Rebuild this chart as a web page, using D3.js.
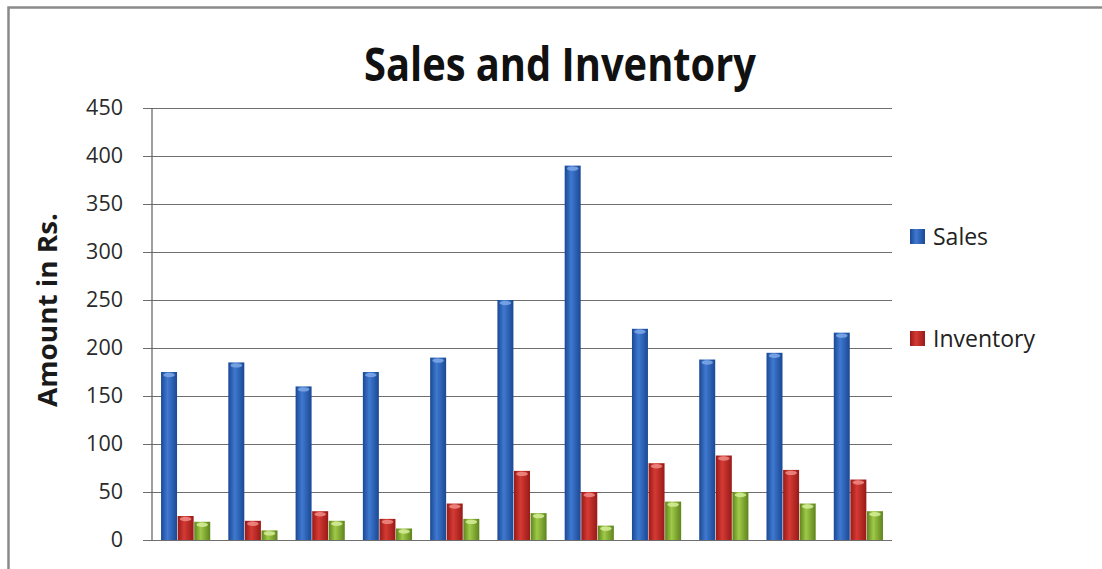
<!DOCTYPE html>
<html>
<head>
<meta charset="utf-8">
<script src="https://cdn.jsdelivr.net/npm/d3@7"></script>
<style>
  html, body { margin: 0; padding: 0; background: #fff; }
  svg { display: block; }
</style>
</head>
<body>
<svg id="chart" width="1102" height="569"></svg>
<script>
// Data
const categories = ["1", "2", "3", "4", "5", "6", "7", "8", "9", "10", "11"];
const seriesNames = ["Sales", "Inventory", "Series3"];
const sales     = [175, 185, 160, 175, 190, 250, 390, 220, 188, 195, 216];
const inventory = [25, 20, 30, 22, 38, 72, 50, 80, 88, 73, 63];
const series3   = [19, 10, 20, 12, 22, 28, 15, 40, 50, 38, 30];
const yTicks = [0, 50, 100, 150, 200, 250, 300, 350, 400, 450];
const legendSeries = ["Sales", "Inventory"];

const seriesValues = [sales, inventory, series3];
const palette = {
  Sales:     { dark: "#1a4894", light: "#3f79d0", cap: "#7fa9e8" },
  Inventory: { dark: "#981a17", light: "#d53a34", cap: "#f08c86" },
  Series3:   { dark: "#5f831d", light: "#9fca48", cap: "#d6ee9a" }
};

const svg = d3.select("#chart");
const W = 1102, H = 569;
const plot = { left: 152, right: 892, top: 108, bottom: 540 };

// Gradients giving the columns a rounded look
const defs = svg.append("defs");
seriesNames.forEach((name, i) => {
  const g = defs.append("linearGradient")
    .attr("id", "grad" + i).attr("x1", "0%").attr("x2", "100%").attr("y1", "0%").attr("y2", "0%");
  g.append("stop").attr("offset", "0%").attr("stop-color", palette[name].dark);
  g.append("stop").attr("offset", "40%").attr("stop-color", palette[name].light);
  g.append("stop").attr("offset", "100%").attr("stop-color", palette[name].dark);
});

// Outer frame (left and top edges)
svg.append("path")
  .attr("d", `M8.5,${H} L8.5,7.5 L${W},7.5`)
  .attr("fill", "none").attr("stroke", "#8a8a8a").attr("stroke-width", 2.5);

// Scales
const x0 = d3.scaleBand().domain(categories).range([plot.left, plot.right])
  .paddingInner(0.26).paddingOuter(0.13);
const x1 = d3.scaleBand().domain(seriesNames).range([0, x0.bandwidth()]).padding(0);
const y = d3.scaleLinear().domain([0, 450]).range([plot.bottom, plot.top]);

// Gridlines and y axis
const yAxis = d3.axisLeft(y).tickValues(yTicks).tickSize(plot.right - plot.left + 9).tickPadding(20);
const gAxis = svg.append("g")
  .attr("transform", `translate(${plot.right},0)`)
  .call(yAxis);
gAxis.select(".domain").remove();
gAxis.selectAll(".tick line").attr("stroke", "#6e6e6e").attr("stroke-width", 1.2);
gAxis.selectAll(".tick text")
  .attr("x", -(plot.right - 123))
  .attr("fill", "#2a2a2a")
  .style("font-family", "'Open Sans', sans-serif")
  .style("font-size", "21.5px");

svg.append("line")
  .attr("x1", plot.left).attr("x2", plot.left)
  .attr("y1", y(450)).attr("y2", y(0))
  .attr("stroke", "#5e5e5e").attr("stroke-width", 1.2);

// Bars
const rows = categories.map((c, ci) => ({
  cat: c,
  vals: seriesNames.map((s, si) => ({ series: s, si: si, value: seriesValues[si][ci] }))
}));

const groups = svg.append("g").selectAll("g")
  .data(rows).join("g")
  .attr("transform", d => `translate(${x0(d.cat)},0)`);

groups.selectAll("rect")
  .data(d => d.vals).join("rect")
  .attr("x", d => x1(d.series) + 0.3)
  .attr("width", x1.bandwidth() - 0.6)
  .attr("y", d => y(d.value))
  .attr("height", d => y(0) - y(d.value))
  .attr("fill", d => `url(#grad${d.si})`);

groups.selectAll("ellipse")
  .data(d => d.vals).join("ellipse")
  .attr("cx", d => x1(d.series) + x1.bandwidth() / 2)
  .attr("cy", d => y(d.value) + 3)
  .attr("rx", x1.bandwidth() / 2 - 2.5)
  .attr("ry", 2.2)
  .attr("fill", d => palette[d.series].cap)
  .attr("opacity", 0.85);

// Title
svg.append("text")
  .attr("x", 560).attr("y", 81)
  .attr("text-anchor", "middle")
  .attr("textLength", 392).attr("lengthAdjust", "spacingAndGlyphs")
  .style("font-family", "'Open Sans', sans-serif")
  .style("font-weight", 700)
  .style("font-size", "46px")
  .attr("fill", "#111")
  .text("Sales and Inventory");

// Y axis label
svg.append("text")
  .attr("transform", "translate(57,310) rotate(-90)")
  .attr("text-anchor", "middle")
  .attr("textLength", 194).attr("lengthAdjust", "spacingAndGlyphs")
  .style("font-family", "'Open Sans', sans-serif")
  .style("font-weight", 700)
  .style("font-size", "26px")
  .attr("fill", "#1a1a1a")
  .text("Amount in Rs.");

// Legend
const legendY = { Sales: 229, Inventory: 331 };
const lg = svg.append("g").selectAll("g")
  .data(legendSeries).join("g")
  .attr("transform", d => `translate(910,${legendY[d]})`);
lg.append("rect")
  .attr("width", 15).attr("height", 15)
  .attr("fill", d => `url(#grad${seriesNames.indexOf(d)})`);
lg.append("text")
  .attr("x", 23).attr("y", 16)
  .style("font-family", "'Open Sans', sans-serif")
  .style("font-size", "23px")
  .attr("fill", "#222")
  .text(d => d);
</script>
</body>
</html>
